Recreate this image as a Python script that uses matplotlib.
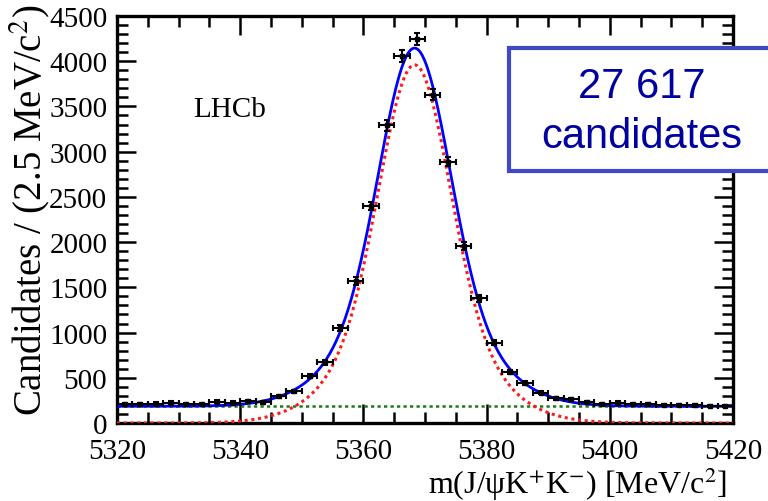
import numpy as np
import matplotlib
matplotlib.use('Agg')
import matplotlib.pyplot as plt
import matplotlib.transforms as mtransforms
from matplotlib.patches import Rectangle
from matplotlib.ticker import MultipleLocator

plt.rcParams['font.family'] = ['Liberation Serif', 'DejaVu Serif']
plt.rcParams['mathtext.fontset'] = 'stix'

# 数据：每 2.5 MeV 一个 bin 的候选数
bin_centres = [5321.25, 5323.75, 5326.25, 5328.75, 5331.25, 5333.75, 5336.25, 5338.75,
               5341.25, 5343.75, 5346.25, 5348.75, 5351.25, 5353.75, 5356.25, 5358.75,
               5361.25, 5363.75, 5366.25, 5368.75, 5371.25, 5373.75, 5376.25, 5378.75,
               5381.25, 5383.75, 5386.25, 5388.75, 5391.25, 5393.75, 5396.25, 5398.75,
               5401.25, 5403.75, 5406.25, 5408.75, 5411.25, 5413.75, 5416.25, 5418.75]
counts = [205, 205, 215, 225, 210, 210, 235, 225,
          240, 230, 295, 350, 515, 670, 1050, 1570,
          2400, 3290, 4060, 4250, 3630, 2890, 1960, 1380,
          890, 560, 440, 335, 275, 265, 232, 212,
          225, 210, 205, 200, 198, 195, 190, 188]
bin_half_width = 1.25

# 拟合参数：双高斯信号 + 平坦本底
sig_mean = 5368.3
sig_peak = 3960
sig_sigma_core = 5.5
sig_sigma_wide = 10.0
sig_core_frac = 0.7
bkg_level = 185

m = np.linspace(5320, 5420, 600)
signal = sig_peak * (sig_core_frac * np.exp(-0.5 * ((m - sig_mean) / sig_sigma_core) ** 2)
                     + (1 - sig_core_frac) * np.exp(-0.5 * ((m - sig_mean) / sig_sigma_wide) ** 2))
background = np.full_like(m, bkg_level)
total = signal + background

fig = plt.figure(figsize=(7.68, 5.02), dpi=100)
ax = fig.add_axes([117 / 768, 1 - 424 / 502, (733 - 117) / 768, (424 - 17) / 502])

ax.plot(m, background, color='#1a7a1a', lw=1.8, ls=(0, (1.3, 1.3)), zorder=2)
ax.plot(m, signal, color='#ff1a1a', lw=2.2, ls=(0, (1, 1.2)), zorder=3)
ax.plot(m, total, color='#0000ff', lw=2.0, zorder=4)

cnt = np.array(counts)
ax.errorbar(bin_centres, cnt, yerr=np.sqrt(cnt), xerr=bin_half_width,
            fmt='s', color='black', ms=3, elinewidth=1.5, capsize=2.5, capthick=1.5, zorder=5)

ax.set_xlim(5320, 5420)
ax.set_ylim(0, 4500)
ax.xaxis.set_major_locator(MultipleLocator(20))
ax.xaxis.set_minor_locator(MultipleLocator(5))
ax.yaxis.set_major_locator(MultipleLocator(500))
ax.yaxis.set_minor_locator(MultipleLocator(100))
ax.tick_params(which='both', direction='in', top=True, right=True, width=1.8, labelsize=21)
ax.tick_params(which='major', length=14)
ax.tick_params(axis='y', which='major', pad=7)
ax.tick_params(axis='x', which='major', pad=11)
ax.tick_params(which='minor', length=8)
for sp in ax.spines.values():
    sp.set_linewidth(2.4)

# "0" 稍微往上挪一点，避免和 5320 重叠
fig.canvas.draw()
zero_lbl = ax.yaxis.get_majorticklabels()[0]
zero_lbl.set_transform(zero_lbl.get_transform()
                       + mtransforms.ScaledTranslation(0, 3 / 72, fig.dpi_scale_trans))

ax.text(5338.3, 3470, 'LHCb', fontsize=21, ha='center', va='center')

fig.text(30 / 768, 1 - 210 / 502, r'Candidates / (2.5 MeV/c$^{2}$)', rotation=90,
         fontsize=28, ha='center', va='center')
fig.text(727 / 768, 1 - 484 / 502, r'm(J/ψK$^{+}$K$^{-}$) [MeV/c$^{2}$]',
         fontsize=23, ha='right', va='center')

# 右上角的文字框
box = Rectangle((509 / 768, 1 - 172 / 502), 300 / 768, 123 / 502, transform=fig.transFigure,
                facecolor='white', edgecolor='#4048c8', lw=3, zorder=10)
fig.add_artist(box)
fig.text(642 / 768, 1 - 87 / 502, '27 617', fontsize=30, color='#0000a0',
         family='Liberation Sans', ha='center', va='center', zorder=11)
fig.text(642 / 768, 1 - 137 / 502, 'candidates', fontsize=30, color='#0000a0',
         family='Liberation Sans', ha='center', va='center', zorder=11)

fig.savefig('out.png', dpi=100)
